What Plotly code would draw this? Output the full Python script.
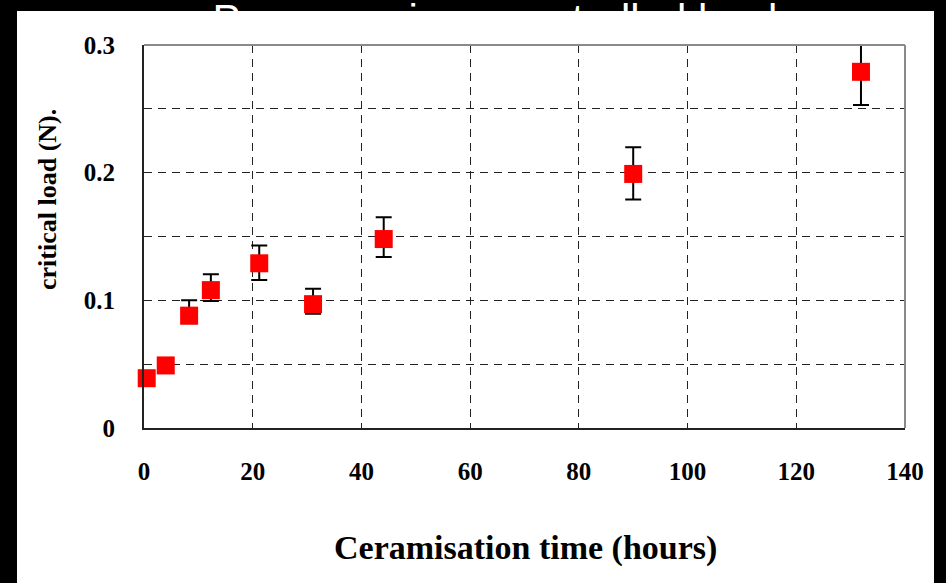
import plotly.graph_objects as go

# Critical load measured after each ceramisation time
hours = [0.5, 4.0, 8.3, 12.3, 21.2, 31.1, 44.1, 90.0, 131.9]
load_n = [0.039, 0.049, 0.088, 0.108, 0.129, 0.097, 0.148, 0.199, 0.279]
err_plus = [0.0, 0.0, 0.012, 0.0125, 0.014, 0.012, 0.017, 0.021, 0.026]
err_minus = [0.0, 0.0, 0.006, 0.0085, 0.013, 0.0075, 0.014, 0.020, 0.026]

x_ticks = [0, 20, 40, 60, 80, 100, 120, 140]
y_ticks = [0, 0.1, 0.2, 0.3]
y_tick_text = ["0", "0.1", "0.2", "0.3"]

slide_title = "Pre-ceramic vs controlled load"

W, H = 946, 583
# plot area in pixels
PL, PR, PT, PB = 144, 905, 45, 428

serif_bold = dict(family="Liberation Serif, Times New Roman, serif", color="black", weight="bold")

fig = go.Figure()

fig.add_trace(go.Scatter(
    x=hours, y=load_n,
    mode="markers",
    marker=dict(symbol="square", size=18, color="#FF0000", line=dict(width=0)),
    error_y=dict(type="data", symmetric=False, array=err_plus, arrayminus=err_minus,
                 color="black", thickness=2, width=8),
    cliponaxis=False,
    showlegend=False,
    xaxis="x", yaxis="y",
))

# slide heading, mostly hidden behind the white chart panel
fig.add_trace(go.Scatter(
    x=[495], y=[-12], mode="text", text=[slide_title],
    textfont=dict(family="Liberation Sans, Arial, sans-serif", size=42, color="white"),
    textposition="middle center",
    cliponaxis=True, showlegend=False, hoverinfo="skip",
    xaxis="x2", yaxis="y2",
))

grid = dict(showgrid=True, gridcolor="#222222", gridwidth=1, griddash="8px,6px")

fig.update_layout(
    width=W, height=H,
    margin=dict(l=0, r=0, t=0, b=0, autoexpand=False),
    paper_bgcolor="black",
    plot_bgcolor="rgba(0,0,0,0)",
    xaxis=dict(
        domain=[PL / W, PR / W], range=[0, 140], anchor="y", automargin=False,
        tickvals=x_ticks, ticktext=[str(v) for v in x_ticks],
        ticks="inside", ticklen=5, tickcolor="#222222",
        tickfont=dict(size=25, **serif_bold), ticklabelstandoff=20,
        showline=True, linecolor="#222222", linewidth=2,
        zeroline=False, **grid,
    ),
    yaxis=dict(
        domain=[(H - PB) / H, (H - PT) / H], range=[0, 0.3], anchor="x", automargin=False,
        tickvals=y_ticks, ticktext=y_tick_text,
        ticks="inside", ticklen=5, tickcolor="#222222",
        tickfont=dict(size=25, **serif_bold), ticklabelstandoff=22,
        minor=dict(dtick=0.05, ticks="inside", ticklen=5, tickcolor="#222222",
                   showgrid=True, gridcolor="#222222", gridwidth=1, griddash="8px,6px"),
        showline=True, linecolor="#222222", linewidth=2,
        zeroline=False, **grid,
    ),
    xaxis2=dict(domain=[0, 1], range=[0, W], anchor="y2", visible=False,
                fixedrange=True, automargin=False),
    yaxis2=dict(domain=[(H - 11) / H, 1], range=[0, 11], anchor="x2", visible=False,
                fixedrange=True, automargin=False),
    shapes=[
        # white chart panel
        dict(type="rect", xref="paper", yref="paper", x0=17 / W, x1=934 / W, y0=0, y1=(H - 11) / H,
             fillcolor="white", line=dict(width=0), layer="below"),
        # light top and right frame
        dict(type="line", xref="x domain", yref="y domain", x0=0, x1=1, y0=1, y1=1,
             line=dict(color="#8a8a8a", width=2)),
        dict(type="line", xref="x domain", yref="y domain", x0=1, x1=1, y0=0, y1=1,
             line=dict(color="#8a8a8a", width=2)),
    ],
    annotations=[
        dict(text="Ceramisation time (hours)", xref="paper", yref="paper",
             x=525 / W, y=(H - 548) / H, showarrow=False, xanchor="center", yanchor="middle",
             font=dict(size=34, **serif_bold)),
        dict(text="critical load (N).", xref="paper", yref="paper",
             x=47 / W, y=(H - 200) / H, showarrow=False, xanchor="center", yanchor="middle",
             textangle=-90, font=dict(size=26, **serif_bold)),
    ],
)

fig.write_html("out.html")
